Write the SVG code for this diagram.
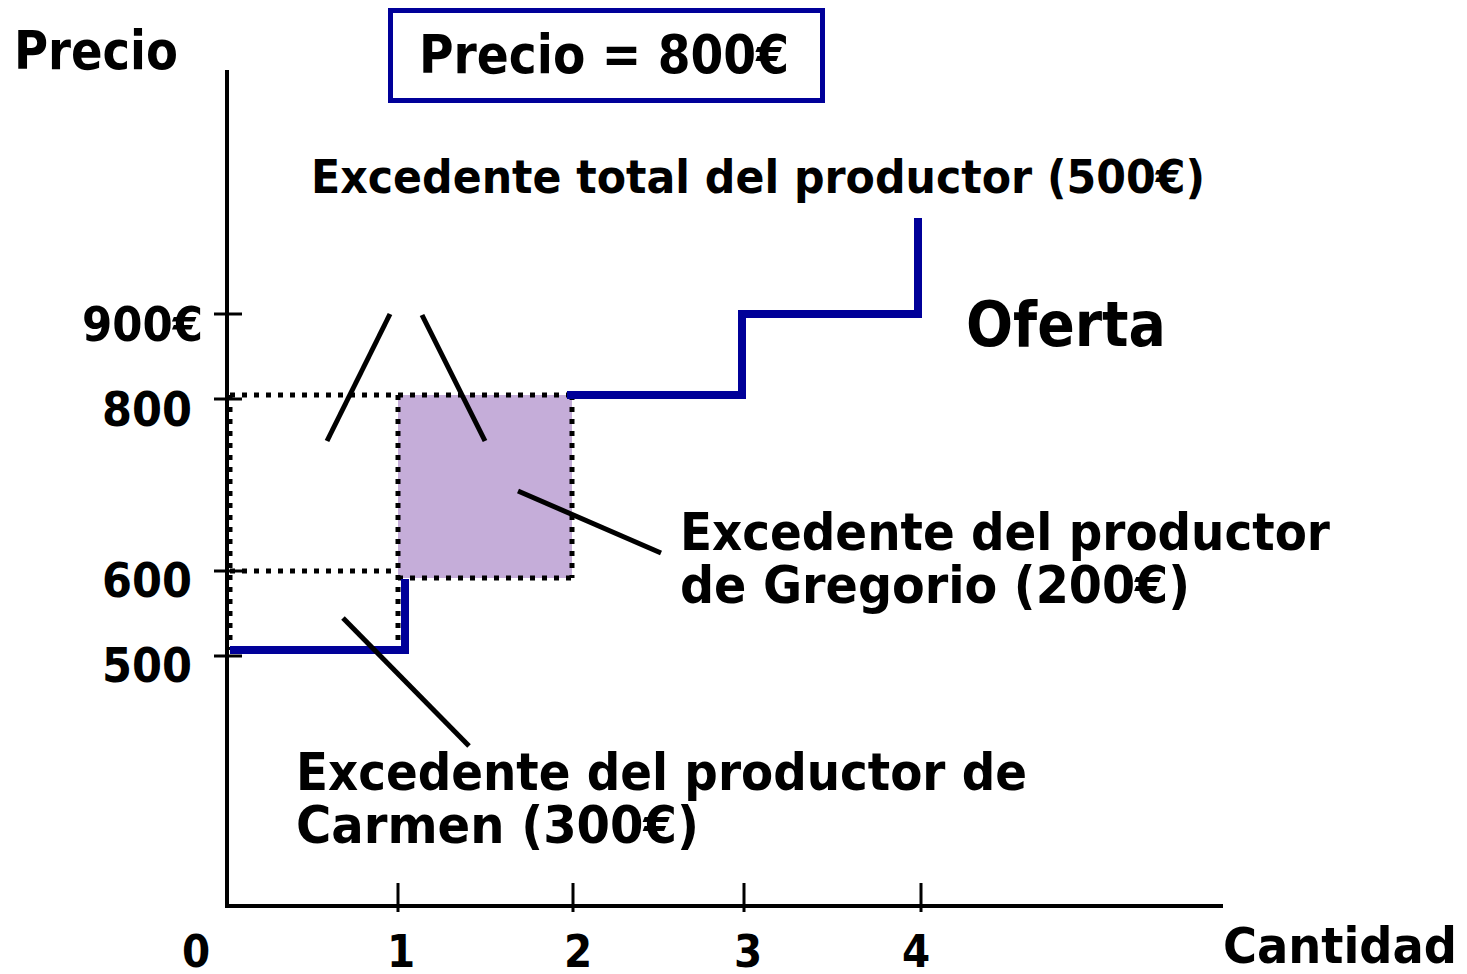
<svg xmlns="http://www.w3.org/2000/svg" width="1467" height="974" viewBox="0 0 1467 974">
<style>
text{font-family:"DejaVu Sans Condensed","DejaVu Sans",sans-serif;font-weight:bold;fill:#000}
.ax{stroke:#000;stroke-width:4;fill:none}
.tk{stroke:#000;stroke-width:3;fill:none}
.dot{stroke:#000;stroke-width:5;stroke-dasharray:5 7;fill:none}
.sup{stroke:#000099;stroke-width:8;fill:none;stroke-linejoin:miter;stroke-linecap:butt}
.lead{stroke:#000;stroke-width:5;fill:none}
</style>
<rect width="1467" height="974" fill="#fff"/>
<g id="axes">
<line class="ax" x1="227" y1="70" x2="227" y2="906"/>
<line class="ax" x1="225" y1="906" x2="1223" y2="906"/>
<line class="tk" x1="214" y1="314" x2="242" y2="314"/>
<line class="tk" x1="214" y1="399" x2="242" y2="399"/>
<line class="tk" x1="214" y1="571" x2="242" y2="571"/>
<line class="tk" x1="214" y1="656" x2="242" y2="656"/>
<line class="tk" x1="398" y1="883" x2="398" y2="912"/>
<line class="tk" x1="573" y1="883" x2="573" y2="912"/>
<line class="tk" x1="744" y1="883" x2="744" y2="912"/>
<line class="tk" x1="921" y1="883" x2="921" y2="912"/>
</g>
<g id="gregorio-area">
<rect x="398" y="395" width="174" height="183" fill="#C5ADD9"/>
</g>
<g id="dotted-guides">
<line class="dot" x1="230" y1="395" x2="572" y2="395"/>
<line class="dot" x1="230" y1="395" x2="230" y2="650"/>
<line class="dot" x1="230" y1="571" x2="398" y2="571"/>
<line class="dot" x1="398" y1="395" x2="398" y2="648"/>
<line class="dot" x1="398" y1="578" x2="572" y2="578"/>
<line class="dot" x1="572" y1="395" x2="572" y2="578"/>
</g>
<g id="supply">
<path class="sup" d="M230 650 H405 V579"/>
<path class="sup" d="M567 395 H742 V314 H918 V218"/>
</g>
<g id="connectors">
<line class="lead" x1="327" y1="441" x2="390" y2="314"/>
<line class="lead" x1="422" y1="315" x2="485" y2="441"/>
<line class="lead" x1="518" y1="491" x2="661" y2="553"/>
<line class="lead" x1="343" y1="618" x2="469" y2="746"/>
</g>
<g id="price-box">
<rect x="390.5" y="10.5" width="432" height="90" fill="#fff" stroke="#000099" stroke-width="5"/>
<text x="419" y="73" font-size="54" textLength="370" lengthAdjust="spacingAndGlyphs">Precio = 800€</text>
</g>
<g id="labels">
<text x="14" y="69" font-size="53" textLength="164" lengthAdjust="spacingAndGlyphs">Precio</text>
<text x="311" y="193" font-size="47" textLength="894" lengthAdjust="spacingAndGlyphs">Excedente total del productor (500€)</text>
<text x="82" y="341" font-size="48" textLength="121" lengthAdjust="spacingAndGlyphs">900€</text>
<text x="102" y="426" font-size="48" textLength="90" lengthAdjust="spacingAndGlyphs">800</text>
<text x="102" y="597" font-size="48" textLength="90" lengthAdjust="spacingAndGlyphs">600</text>
<text x="102" y="682" font-size="48" textLength="90" lengthAdjust="spacingAndGlyphs">500</text>
<text x="966" y="346" font-size="62" textLength="200" lengthAdjust="spacingAndGlyphs">Oferta</text>
<text x="680" y="550" font-size="52" textLength="650" lengthAdjust="spacingAndGlyphs">Excedente del productor</text>
<text x="680" y="603" font-size="52" textLength="510" lengthAdjust="spacingAndGlyphs">de Gregorio (200€)</text>
<text x="296" y="790" font-size="52" textLength="731" lengthAdjust="spacingAndGlyphs">Excedente del productor de</text>
<text x="296" y="843" font-size="52" textLength="403" lengthAdjust="spacingAndGlyphs">Carmen (300€)</text>
<text x="1223" y="963" font-size="49" textLength="234" lengthAdjust="spacingAndGlyphs">Cantidad</text>
<text x="196" y="967" font-size="45" text-anchor="middle">0</text>
<text x="401" y="967" font-size="45" text-anchor="middle">1</text>
<text x="578" y="967" font-size="45" text-anchor="middle">2</text>
<text x="748" y="967" font-size="45" text-anchor="middle">3</text>
<text x="916" y="967" font-size="45" text-anchor="middle">4</text>
</g>
</svg>
